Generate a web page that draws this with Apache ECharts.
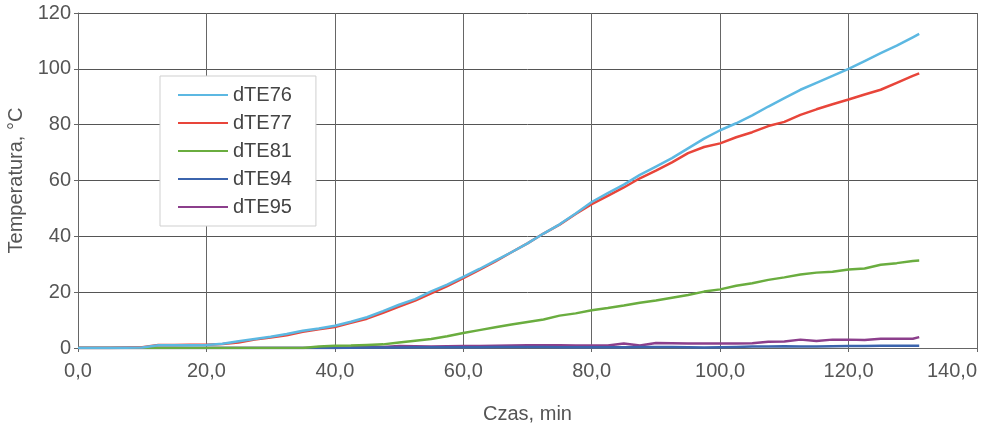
<!DOCTYPE html>
<html>
<head>
<meta charset="utf-8">
<script src="https://cdn.jsdelivr.net/npm/echarts@6/dist/echarts.min.js"></script>
<style>html,body{margin:0;padding:0;background:#fff}#c{width:986px;height:424px}</style>
</head>
<body>
<div id="c"></div>
<script>
const time = [0, 5, 10, 12.5, 15, 17.5, 20, 22.5, 25, 27.5, 30, 32.5, 35, 37.5, 40, 42.5, 45, 47.5, 50, 52.5, 55, 57.5, 60, 62.5, 65, 67.5, 70, 72.5, 75, 77.5, 80, 82.5, 85, 87.5, 90, 92.5, 95, 97.5, 100, 102.5, 105, 107.5, 110, 112.5, 115, 117.5, 120, 122.5, 125, 127.5, 130, 131];
const dTE76 = [0, 0, 0.2, 1.0, 1.0, 1.0, 1.1, 1.5, 2.4, 3.2, 4.0, 5.0, 6.2, 7.0, 8.0, 9.4, 11.0, 13.2, 15.5, 17.5, 20.3, 22.7, 25.5, 28.3, 31.3, 34.3, 37.5, 41, 44.3, 48.2, 52.3, 55.5, 58.5, 62, 65, 68, 71.5, 75, 78, 80.5, 83.3, 86.5, 89.5, 92.5, 95, 97.5, 100, 102.8, 105.6, 108.3, 111.3, 112.5];
const dTE77 = [0, 0, 0.3, 1.1, 1.1, 1.2, 1.2, 1.4, 2.0, 3.0, 3.8, 4.6, 5.8, 6.7, 7.5, 9.0, 10.5, 12.6, 14.8, 17.0, 19.6, 22.2, 25.0, 28.0, 31.0, 34.3, 37.5, 41, 44.2, 48, 51.5, 54.5, 57.5, 60.8, 63.5, 66.5, 69.8, 72.0, 73.3, 75.5, 77.3, 79.5, 81, 83.5, 85.5, 87.3, 89, 90.8, 92.5, 95, 97.5, 98.4];
const dTE81 = [0, 0, 0, 0, 0, 0, 0, 0, 0, 0, 0, 0, 0, 0.5, 0.8, 0.9, 1.1, 1.3, 2.0, 2.6, 3.2, 4.2, 5.4, 6.4, 7.4, 8.4, 9.3, 10.2, 11.6, 12.4, 13.5, 14.3, 15.2, 16.2, 17.0, 18.0, 19.0, 20.2, 21.0, 22.3, 23.2, 24.4, 25.3, 26.3, 27.0, 27.3, 28.1, 28.5, 29.8, 30.4, 31.2, 31.3];
const dTE94 = [0, 0, 0, 0, 0, 0, 0, 0, 0, 0, 0, 0, 0, 0, 0, 0.1, 0.2, 0.2, 0.2, 0.3, 0.3, 0.3, 0.3, 0.3, 0.4, 0.4, 0.4, 0.4, 0.3, 0.3, 0.3, 0.3, 0.3, 0.4, 0.4, 0.4, 0.3, 0.2, 0.3, 0.4, 0.5, 0.5, 0.6, 0.5, 0.5, 0.6, 0.7, 0.7, 0.8, 0.8, 0.8, 0.8];
const dTE95 = [0, 0, 0, 0, 0, 0, 0, 0, 0, 0, 0, 0, 0, 0, 0, 0.2, 0.6, 0.4, 0.7, 0.6, 0.5, 0.6, 0.7, 0.7, 0.8, 0.9, 1.0, 1.0, 1.0, 0.9, 0.9, 0.9, 1.6, 0.9, 1.8, 1.7, 1.6, 1.6, 1.6, 1.6, 1.7, 2.2, 2.3, 3.0, 2.5, 3.0, 3.0, 2.9, 3.3, 3.3, 3.3, 3.9];
const xTicks = [0, 20, 40, 60, 80, 100, 120, 140];
const yTicks = [0, 20, 40, 60, 80, 100, 120];

const names = ['dTE76', 'dTE77', 'dTE81', 'dTE94', 'dTE95'];
const values = [dTE76, dTE77, dTE81, dTE94, dTE95];
const colors = ['#5cb8e2', '#e8453a', '#6aad3f', '#3b64ad', '#8c3f8c'];

const chart = echarts.init(document.getElementById('c'), null, {renderer: 'canvas'});
const labelColor = '#555';
const ff = 'Liberation Sans, Arial, sans-serif';
chart.setOption({
  animation: false,
  backgroundColor: '#fff',
  grid: {left: 78, right: 9, top: 13, bottom: 76, containLabel: false, outerBoundsMode: 'none'},
  legend: {
    orient: 'vertical',
    left: 160, top: 76,
    padding: [9, 24, 9, 17],
    itemWidth: 50, itemHeight: 14, itemGap: 8,
    backgroundColor: '#fff',
    borderColor: '#cfcfcf', borderWidth: 1,
    itemStyle: {opacity: 0},
    textStyle: {fontFamily: ff, fontSize: 20, color: '#444'},
    data: names
  },
  xAxis: {
    type: 'value', min: xTicks[0], max: xTicks[xTicks.length - 1], interval: 20,
    name: 'Czas, min', nameLocation: 'middle', nameGap: 56,
    nameTextStyle: {fontFamily: ff, fontSize: 20, color: labelColor},
    axisLine: {show: true, lineStyle: {color: '#666', width: 1}},
    axisTick: {show: true, length: 4, lineStyle: {color: '#666'}},
    axisLabel: {fontFamily: ff, fontSize: 20, color: labelColor, margin: 13,
      alignMaxLabel: 'right', showMaxLabel: true, hideOverlap: false,
      formatter: v => v.toFixed(1).replace('.', ',')},
    splitLine: {show: true, lineStyle: {color: '#666', width: 1}}
  },
  yAxis: {
    type: 'value', min: yTicks[0], max: yTicks[yTicks.length - 1], interval: 20,
    name: 'Temperatura, °C', nameLocation: 'middle', nameGap: 50,
    nameTextStyle: {fontFamily: ff, fontSize: 20, color: labelColor},
    axisLine: {show: true, lineStyle: {color: '#666', width: 1}},
    axisTick: {show: true, length: 4, lineStyle: {color: '#666'}},
    axisLabel: {fontFamily: ff, fontSize: 20, color: labelColor, margin: 7},
    splitLine: {show: true, lineStyle: {color: '#555', width: 1}}
  },
  series: names.map((n, i) => ({
    name: n, type: 'line', symbol: 'none', showSymbol: false,
    color: colors[i],
    lineStyle: {width: 2.5, color: colors[i]},
    data: time.map((t, j) => [t, values[i][j]]),
    z: 10 - i
  }))
});
</script>
</body>
</html>
